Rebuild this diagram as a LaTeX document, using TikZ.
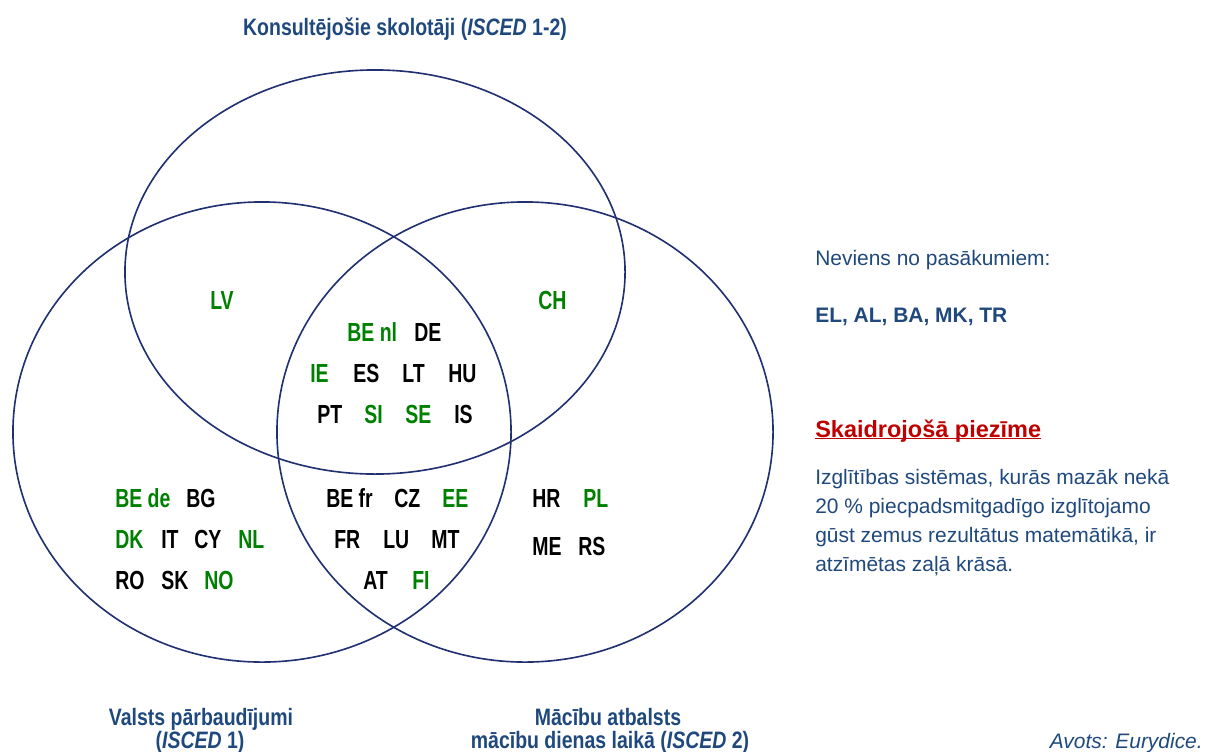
\documentclass[tikz,border=0pt]{standalone}
\usepackage{fontspec}
\setmainfont{Liberation Sans}
\newfontfamily\narrowfont[FakeStretch=0.82]{Liberation Sans}
\newfontfamily\codefont[FakeStretch=0.745]{Liberation Sans}
\usepackage{xcolor}
\usetikzlibrary{positioning}

\definecolor{ringblue}{RGB}{32,48,112}
\definecolor{titleblue}{RGB}{31,73,125}
\definecolor{lowgreen}{RGB}{0,128,0}
\definecolor{notered}{RGB}{192,0,0}
\newcommand{\undl}[1]{\setbox0\hbox{#1}\rlap{\rule[-1.6pt]{\wd0}{1.1pt}}\box0}

\begin{document}
\begin{tikzpicture}[
  x=0.025cm, y=-0.025cm,
  ring/.style={draw=ringblue, line width=1.15pt},
  code/.style={inner sep=0pt, anchor=west, text height=13.3pt, text depth=0pt, font=\codefont\bfseries\fontsize{18.6}{22}\selectfont},
  gr/.style={code, text=lowgreen},
  bk/.style={code, text=black},
  head/.style={inner sep=0pt, anchor=base, text=titleblue, font=\narrowfont\bfseries\fontsize{16.9}{20}\selectfont},
  side/.style={inner sep=0pt, anchor=base west, text=titleblue, font=\fontsize{14.9}{20.6}\selectfont}
]
\useasboundingbox (0,0) rectangle (1207,751);

% the three sets
\draw[ring] (375,272) ellipse [x radius=6.25cm, y radius=5.05cm];
\draw[ring] (262,432) ellipse [x radius=6.225cm, y radius=5.75cm];
\draw[ring] (525,432) ellipse [x radius=6.2cm, y radius=5.75cm];

% set titles
\node[head] (konsult) at (405,35) {Konsultējošie skolotāji (\textit{ISCED} 1-2)};
\node[head] (valsts) at (201,725) {Valsts pārbaudījumi};
\node[head] (valstsisced) at (200,748) {(\textit{ISCED} 1)};
\node[head] (atbalsts) at (608,725) {Mācību atbalsts};
\node[head] (atbalstsisced) at (610,748) {mācību dienas laikā (\textit{ISCED} 2)};

% top only / top and one other
\node[gr] (lv) at (210,300) {LV};
\node[gr] (ch) at (538,300) {CH};

% all three
\node[gr] (benl) at (347,332) {BE nl};
\node[bk] (de) at (414,332) {DE};
\node[gr] (ie) at (310,373) {IE};
\node[bk] (es) at (353,373) {ES};
\node[bk] (lt) at (402,373) {LT};
\node[bk] (hu) at (448,373) {HU};
\node[bk] (pt) at (317,414) {PT};
\node[gr] (si) at (364,414) {SI};
\node[gr] (se) at (405,414) {SE};
\node[bk] (is) at (454,414) {IS};

% left only
\node[gr] (bede) at (115,498) {BE de};
\node[bk] (bg) at (186,498) {BG};
\node[gr] (dk) at (115,539) {DK};
\node[bk] (it) at (161,539) {IT};
\node[bk] (cy) at (194,539) {CY};
\node[gr] (nl) at (238,539) {NL};
\node[bk] (ro) at (115,580) {RO};
\node[bk] (sk) at (161,580) {SK};
\node[gr] (no) at (204,580) {NO};

% left and right
\node[bk] (befr) at (326,498) {BE fr};
\node[bk] (cz) at (394,498) {CZ};
\node[gr] (ee) at (442,498) {EE};
\node[bk] (fr) at (334,539) {FR};
\node[bk] (lu) at (383,539) {LU};
\node[bk] (mt) at (431,539) {MT};
\node[bk] (at) at (363,580) {AT};
\node[gr] (fi) at (412,580) {FI};

% right only
\node[bk] (hr) at (532,498) {HR};
\node[gr] (pl) at (583,498) {PL};
\node[bk] (me) at (532,546) {ME};
\node[bk] (rs) at (578,546) {RS};

% side notes
\node[side] (neviens) at (815,265) {Neviens no pasākumiem:};
\node[side, font=\bfseries\fontsize{14.9}{20.6}\selectfont] (none) at (815,322) {EL, AL, BA, MK, TR};
\node[side, text=notered, font=\bfseries\fontsize{16.7}{20}\selectfont] (piezime) at (815,437) {\undl{Skaidrojošā piezīme}};
\node[side] (note1) at (815,484) {Izglītības sistēmas, kurās mazāk nekā};
\node[side] (note2) at (815,513) {20 \% piecpadsmitgadīgo izglītojamo};
\node[side] (note3) at (815,542) {gūst zemus rezultātus matemātikā, ir};
\node[side] (note4) at (815,571) {atzīmētas zaļā krāsā.};
\node[side, anchor=base east, font=\itshape\fontsize{14.9}{20.6}\selectfont] (avots) at (1203,748) {Avots: Eurydice.};
\end{tikzpicture}
\end{document}
